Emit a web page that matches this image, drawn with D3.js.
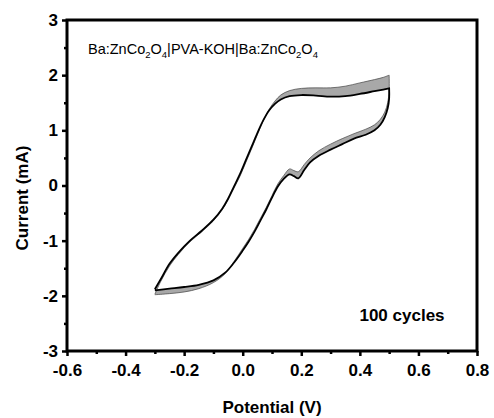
<!DOCTYPE html>
<html>
<head>
<meta charset="utf-8">
<script src="https://cdn.jsdelivr.net/npm/d3@7"></script>
<style>
  body { margin: 0; background: #fff; }
  text { font-family: "Liberation Sans", Arial, sans-serif; }
</style>
</head>
<body>
<svg id="chart" width="494" height="418"></svg>
<script>
// 数据: 电位 (V) 与电流 (mA), 第1圈和第100圈
const anodicV = [-0.30, -0.28, -0.25, -0.22, -0.18, -0.14, -0.10, -0.07, -0.05, -0.03, -0.01, 0.01, 0.03, 0.05, 0.07, 0.09, 0.11, 0.13, 0.16, 0.20, 0.25, 0.30, 0.35, 0.40, 0.45, 0.48, 0.50];
const anodicI100 = [-1.88, -1.70, -1.42, -1.22, -1.00, -0.82, -0.62, -0.42, -0.24, -0.02, 0.20, 0.45, 0.70, 0.95, 1.18, 1.36, 1.48, 1.56, 1.62, 1.64, 1.63, 1.61, 1.62, 1.66, 1.71, 1.74, 1.76];
const anodicI1 = [-1.97, -1.74, -1.46, -1.25, -1.02, -0.84, -0.64, -0.44, -0.26, -0.05, 0.16, 0.41, 0.66, 0.92, 1.17, 1.38, 1.53, 1.64, 1.72, 1.76, 1.77, 1.77, 1.80, 1.86, 1.92, 1.96, 2.00];

const cathodicV = [0.50, 0.50, 0.495, 0.485, 0.47, 0.45, 0.42, 0.38, 0.34, 0.30, 0.26, 0.23, 0.21, 0.19, 0.175, 0.16, 0.14, 0.12, 0.10, 0.08, 0.06, 0.04, 0.02, 0.00, -0.03, -0.06, -0.10, -0.15, -0.20, -0.25, -0.30];
const cathodicI100 = [1.76, 1.58, 1.40, 1.24, 1.10, 1.00, 0.92, 0.85, 0.75, 0.65, 0.54, 0.42, 0.28, 0.13, 0.17, 0.20, 0.12, -0.02, -0.22, -0.44, -0.64, -0.84, -1.02, -1.18, -1.40, -1.58, -1.72, -1.80, -1.84, -1.87, -1.90];
const cathodicI1 = [2.00, 1.72, 1.50, 1.33, 1.20, 1.10, 1.02, 0.94, 0.85, 0.75, 0.63, 0.50, 0.38, 0.25, 0.27, 0.30, 0.18, 0.03, -0.18, -0.40, -0.60, -0.80, -0.98, -1.14, -1.38, -1.60, -1.76, -1.87, -1.93, -1.96, -1.98];

const xTicks = [-0.6, -0.4, -0.2, 0.0, 0.2, 0.4, 0.6, 0.8];
const xMinor = [-0.5, -0.3, -0.1, 0.1, 0.3, 0.5, 0.7];
const yTicks = [-3, -2, -1, 0, 1, 2, 3];
const yMinor = [-2.5, -1.5, -0.5, 0.5, 1.5, 2.5];

const svg = d3.select('#chart');
const plotLeft = 67, plotRight = 477, plotTop = 20, plotBottom = 351;

const x = d3.scaleLinear().domain([-0.6, 0.8]).range([plotLeft, plotRight]);
const y = d3.scaleLinear().domain([-3, 3]).range([plotBottom, plotTop]);

// 把一圈的阳极和阴极扫描拼起来
const loop = (iA, iC) => anodicV.map((v, i) => [v, iA[i]])
  .concat(cathodicV.map((v, i) => [v, iC[i]]));
const cycle1 = loop(anodicI1, cathodicI1);
const cycle100 = loop(anodicI100, cathodicI100);

const line = d3.line()
  .x(d => x(d[0]))
  .y(d => y(d[1]))
  .curve(d3.curveCatmullRom.alpha(0.5));

// 圈与圈之间的灰色带
svg.append('path')
  .attr('d', line(cycle1) + 'Z' + line(cycle100) + 'Z')
  .attr('fill', '#a8a8a8')
  .attr('fill-rule', 'evenodd')
  .attr('stroke', 'none');

svg.append('path')
  .attr('d', line(cycle1))
  .attr('fill', 'none')
  .attr('stroke', '#444')
  .attr('stroke-width', 0.7);

svg.append('path')
  .attr('d', line(cycle100))
  .attr('fill', 'none')
  .attr('stroke', '#000')
  .attr('stroke-width', 1.8);

// 坐标轴
svg.append('g')
  .attr('transform', `translate(0,${plotBottom})`)
  .call(d3.axisBottom(x).tickValues(xTicks).tickFormat(d => d.toFixed(1)).tickSize(5).tickSizeOuter(0).tickPadding(8));
svg.append('g')
  .attr('transform', `translate(${plotLeft},0)`)
  .call(d3.axisLeft(y).tickValues(yTicks).tickFormat(d => d).tickSize(5).tickSizeOuter(0).tickPadding(4));

svg.append('g')
  .attr('transform', `translate(0,${plotBottom})`)
  .call(d3.axisBottom(x).tickValues(xMinor).tickFormat('').tickSize(3).tickSizeOuter(0));
svg.append('g')
  .attr('transform', `translate(${plotLeft},0)`)
  .call(d3.axisLeft(y).tickValues(yMinor).tickFormat('').tickSize(3).tickSizeOuter(0));

svg.selectAll('.domain').remove();
svg.selectAll('.tick line').attr('stroke', '#000').attr('stroke-width', 2.5);
svg.selectAll('.tick text')
  .attr('fill', '#000')
  .style('font-size', '17px')
  .style('font-weight', 'bold');

// 边框
svg.append('rect')
  .attr('x', plotLeft).attr('y', plotTop)
  .attr('width', plotRight - plotLeft).attr('height', plotBottom - plotTop)
  .attr('fill', 'none')
  .attr('stroke', '#000')
  .attr('stroke-width', 3);

// 轴标题
svg.append('text')
  .attr('x', 272).attr('y', 413)
  .attr('text-anchor', 'middle')
  .style('font-size', '17px').style('font-weight', 'bold')
  .text('Potential (V)');

svg.append('text')
  .attr('transform', 'translate(28,198) rotate(-90)')
  .attr('text-anchor', 'middle')
  .style('font-size', '17px').style('font-weight', 'bold')
  .text('Current (mA)');

// 标注
svg.append('text')
  .attr('x', 402).attr('y', 321)
  .attr('text-anchor', 'middle')
  .style('font-size', '17px').style('font-weight', 'bold')
  .text('100 cycles');

const label = svg.append('text')
  .attr('x', 88).attr('y', 58)
  .style('font-size', '14.5px');
const parts = [['Ba:ZnCo'], ['2', 1], ['O'], ['4', 1], ['|PVA-KOH|Ba:ZnCo'], ['2', 1], ['O'], ['4', 1]];
parts.forEach(p => {
  label.append('tspan')
    .attr('dy', p[1] ? 4 : (label.selectAll('tspan').size() ? -4 : 0))
    .style('font-size', p[1] ? '9.5px' : '14.5px')
    .text(p[0]);
});
</script>
</body>
</html>
